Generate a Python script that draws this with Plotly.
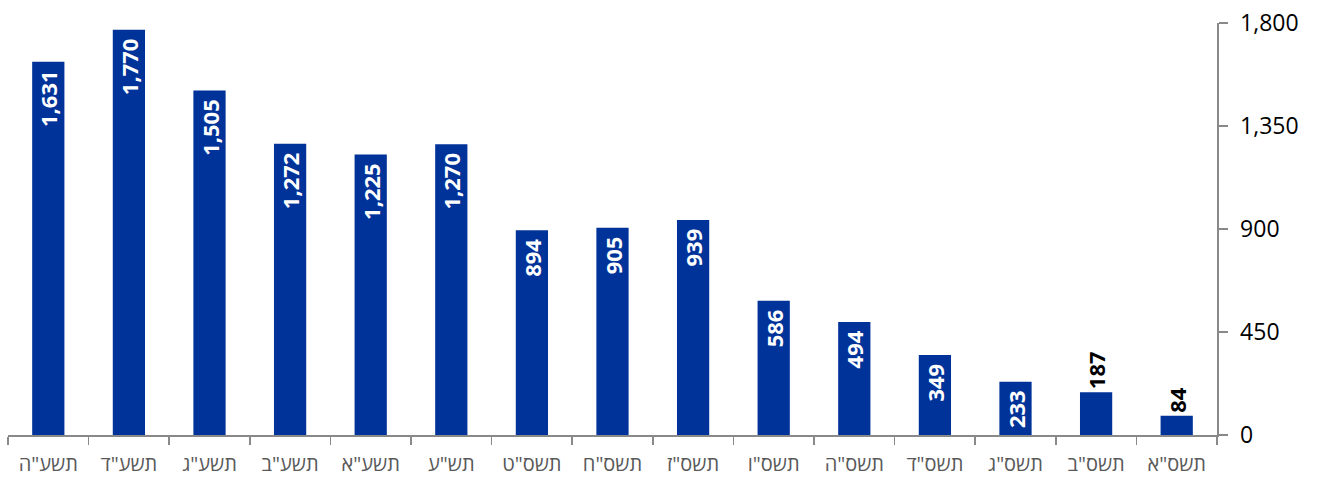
import plotly.graph_objects as go

categories = ['תשע"ה', 'תשע"ד', 'תשע"ג', 'תשע"ב', 'תשע"א', 'תש"ע', 'תשס"ט',
              'תשס"ח', 'תשס"ז', 'תשס"ו', 'תשס"ה', 'תשס"ד', 'תשס"ג', 'תשס"ב', 'תשס"א']
values = [1631, 1770, 1505, 1272, 1225, 1270, 894, 905, 939, 586, 494, 349, 233, 187, 84]
y_ticks = [0, 450, 900, 1350, 1800]

text_pos = ['outside' if v < 200 else 'inside' for v in values]
text_col = ['#000000' if v < 200 else '#ffffff' for v in values]
text_lbl = [f"{v:,}" + ('\u00a0' if v >= 200 else '') for v in values]

fig = go.Figure(go.Bar(
    x=categories, y=values,
    marker=dict(color='#003399', line=dict(width=0)),
    text=text_lbl,
    textposition=text_pos,
    insidetextanchor='end',
    textangle=-90,
    constraintext='none',
    cliponaxis=False,
    textfont=dict(family='Open Sans, Liberation Sans, sans-serif', size=22,
                  color=text_col, weight='bold'),
))

fig.update_layout(
    width=1319, height=477,
    margin=dict(l=8, r=102, t=23, b=42, autoexpand=False),
    paper_bgcolor='white', plot_bgcolor='white',
    bargap=0.6, showlegend=False,
    font=dict(family='Open Sans, Liberation Sans, sans-serif'),
)
fig.update_xaxes(
    type='category', showgrid=False, showline=True, linecolor='#898989', linewidth=1.5,
    ticks='outside', tickson='boundaries', ticklen=8, tickcolor='#898989', tickwidth=1.5,
    tickfont=dict(size=20, color='#595959'), ticklabelstandoff=10, automargin=False,
)
fig.update_yaxes(
    side='right', range=[0, 1800], tickvals=y_ticks, tickformat=',',
    showgrid=False, zeroline=False, showline=True, linecolor='#898989', linewidth=1.5,
    ticks='outside', ticklen=9, tickcolor='#898989', tickwidth=1.5,
    tickfont=dict(size=23, color='#000000'), ticklabelstandoff=8, automargin=False,
    ticklabeloverflow='allow',
)

fig.write_html(
    "out.html",
    config={'displayModeBar': False, 'staticPlot': True},
    post_script="document.body.style.margin='0';document.body.style.overflow='hidden';",
)
